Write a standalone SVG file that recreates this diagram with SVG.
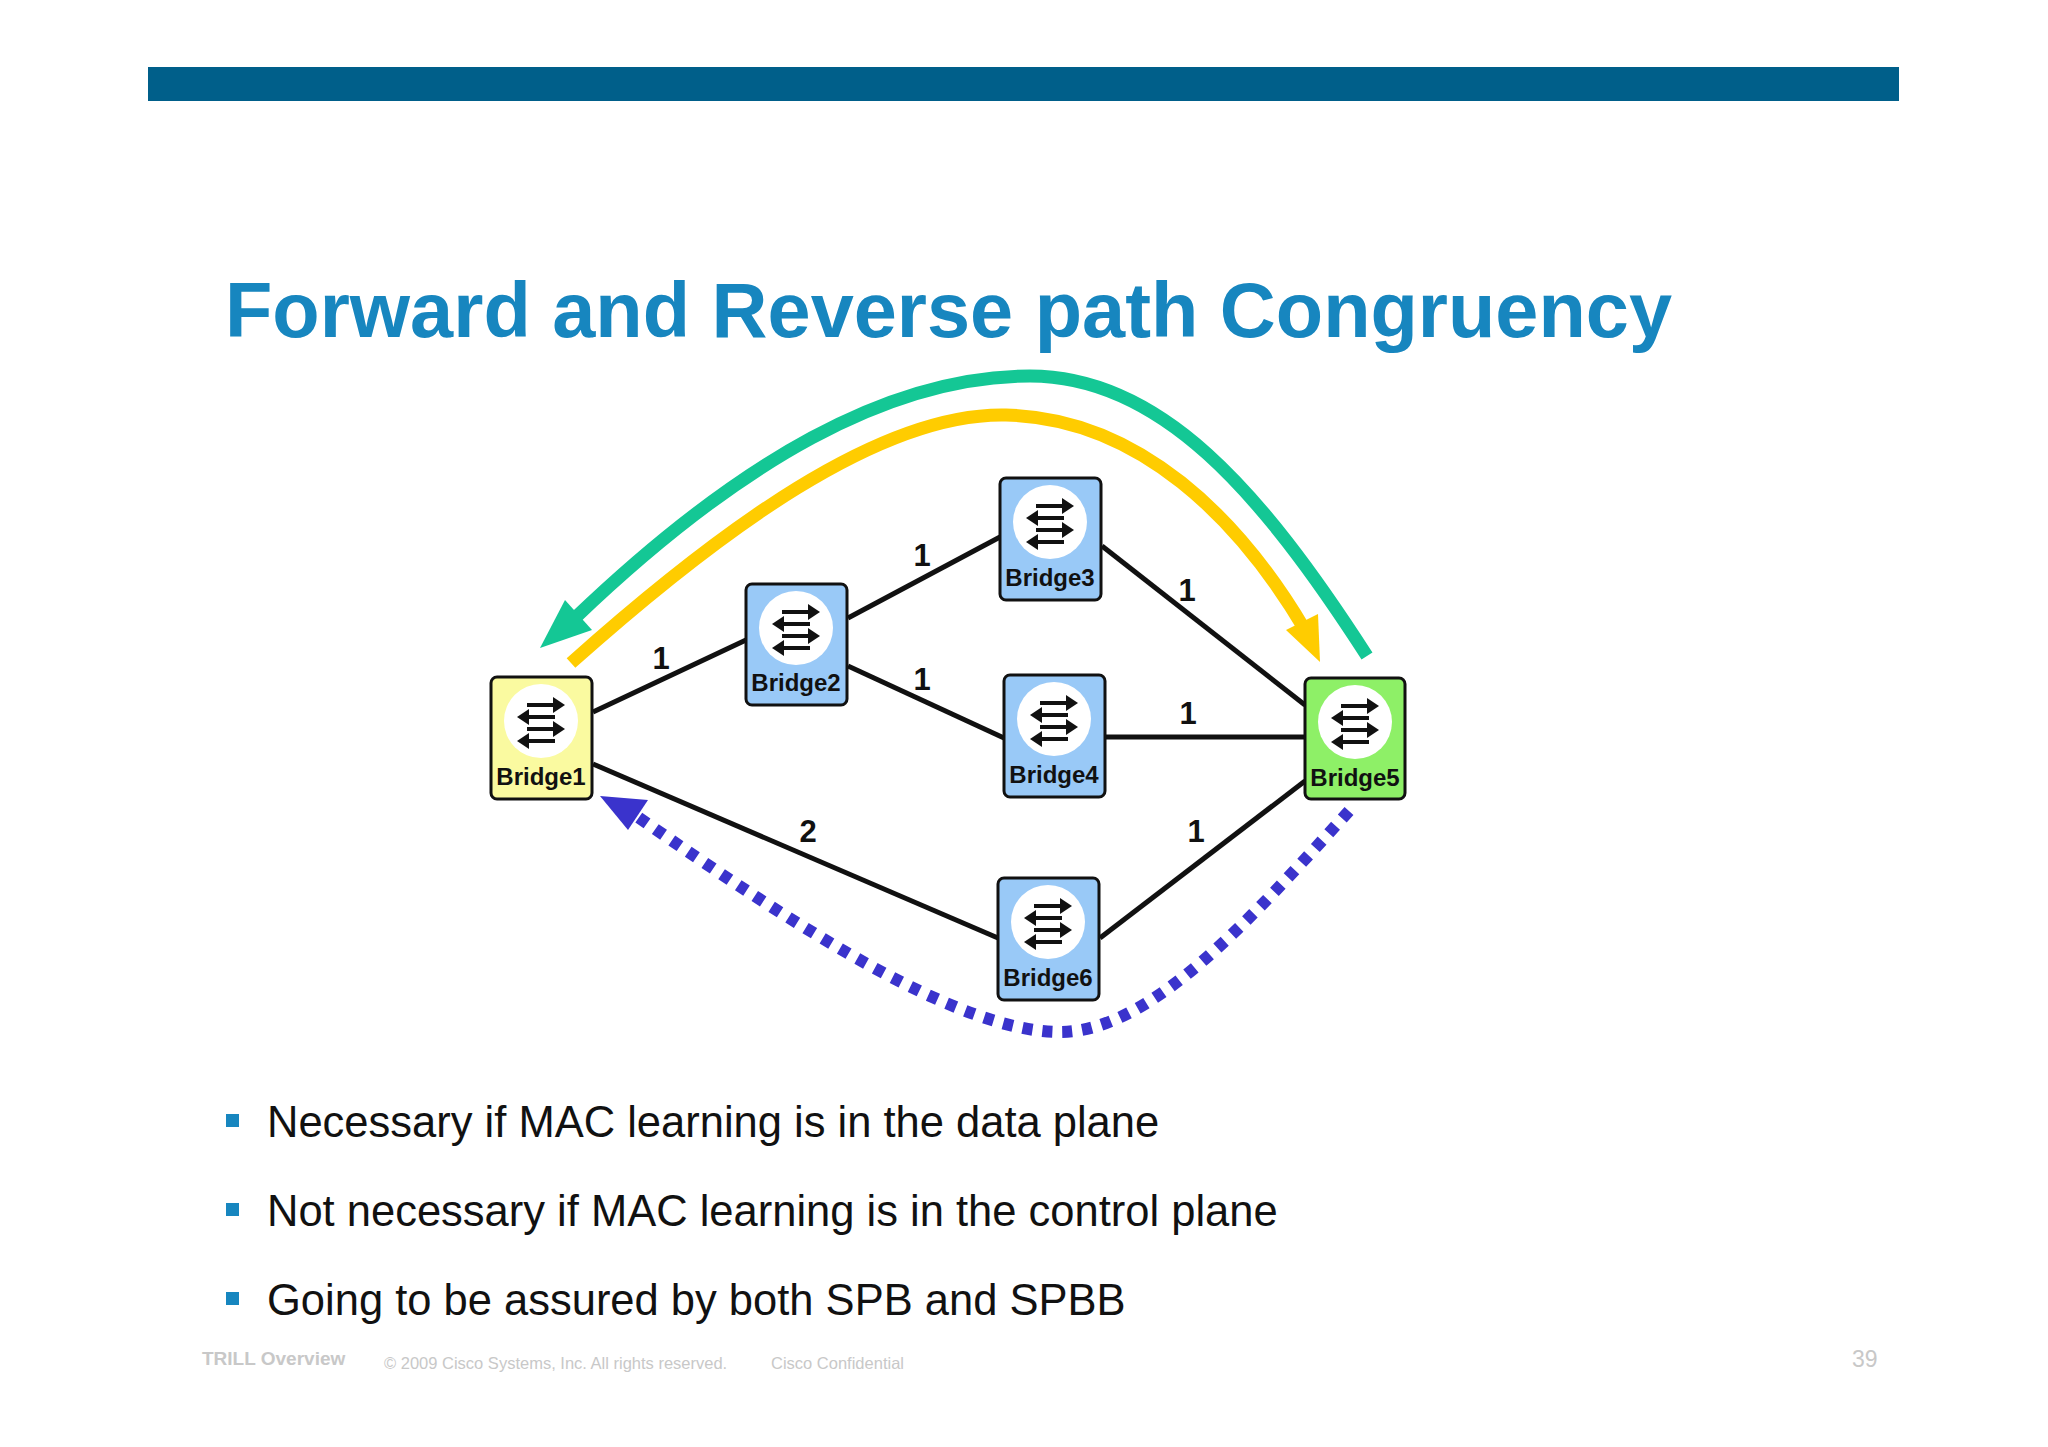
<svg xmlns="http://www.w3.org/2000/svg" xmlns:xlink="http://www.w3.org/1999/xlink" width="2048" height="1447" viewBox="0 0 2048 1447">
<style>
.box{stroke:#111;stroke-width:3}
.lbl{font-family:"Liberation Sans",Arial,sans-serif;font-weight:bold;font-size:24px;fill:#111;text-anchor:middle}
.link{stroke:#111;stroke-width:5;fill:none}
.cost{font-family:"Liberation Sans",Arial,sans-serif;font-weight:bold;font-size:31px;fill:#111;text-anchor:middle}
.bul{font-family:"Liberation Sans",Arial,sans-serif;font-size:43.5px;fill:#111}
.foot{font-family:"Liberation Sans",Arial,sans-serif;fill:#c8c8c8}
</style>
<defs>
<g id="icon">
<circle r="37" fill="#fff"/>
<g stroke="#111" stroke-width="4" fill="#111">
<line x1="-14" y1="-16" x2="16" y2="-16"/><polygon points="24,-16 12,-24 12,-8" stroke="none"/>
<line x1="-16" y1="-4" x2="14" y2="-4"/><polygon points="-24,-4 -12,-12 -12,4" stroke="none"/>
<line x1="-14" y1="8" x2="16" y2="8"/><polygon points="24,8 12,0 12,16" stroke="none"/>
<line x1="-16" y1="20" x2="14" y2="20"/><polygon points="-24,20 -12,12 -12,28" stroke="none"/>
</g>
</g>
</defs>
<rect width="2048" height="1447" fill="#fff"/>
<rect x="148" y="67" width="1751" height="34" fill="#005f8a"/>
<text x="225" y="337" font-family="Liberation Sans,Arial,sans-serif" font-weight="bold" font-size="77.5" fill="#1786bf">Forward and Reverse path Congruency</text>
<g id="connectors">
<line class="link" x1="593" y1="712" x2="746" y2="640"/>
<line class="link" x1="848" y1="618" x2="1000" y2="537"/>
<line class="link" x1="1102" y1="546" x2="1305" y2="705"/>
<line class="link" x1="848" y1="666" x2="1004" y2="738"/>
<line class="link" x1="1106" y1="737" x2="1305" y2="737"/>
<line class="link" x1="593" y1="764" x2="998" y2="938"/>
<line class="link" x1="1100" y1="938" x2="1305" y2="781"/>
<text class="cost" x="661" y="669">1</text>
<text class="cost" x="922" y="566">1</text>
<text class="cost" x="1187" y="601">1</text>
<text class="cost" x="922" y="690">1</text>
<text class="cost" x="1188" y="724">1</text>
<text class="cost" x="808" y="842">2</text>
<text class="cost" x="1196" y="842">1</text>
<path d="M1367,656 C1260,490 1160,376 1030,376 C890,376 740,460 575,618" stroke="#14c795" stroke-width="13" fill="none"/>
<polygon points="540,648 565,600 592,630" fill="#14c795"/>
<path d="M571,663 C720,530 880,412 1006,415 C1140,418 1240,520 1305,630" stroke="#ffcc00" stroke-width="13" fill="none"/>
<polygon points="1320,662 1286,630 1318,614" fill="#ffcc00"/>
<path d="M1349,811 C1250,920 1150,1032 1060,1032 C960,1032 800,930 635,815" stroke="#3a33cc" stroke-width="12" stroke-dasharray="10 10" fill="none"/>
<polygon points="600,796 648,800 628,830" fill="#3a33cc"/>
</g>
<g id="bridge1"><rect class="box" x="491" y="677" width="101" height="122" rx="6" fill="#fafaa0"/><use xlink:href="#icon" x="541" y="721"/><text class="lbl" x="541" y="785">Bridge1</text></g>
<g id="bridge2"><rect class="box" x="746" y="584" width="101" height="121" rx="6" fill="#99c9f7"/><use xlink:href="#icon" x="796" y="628"/><text class="lbl" x="796" y="691">Bridge2</text></g>
<g id="bridge3"><rect class="box" x="1000" y="478" width="101" height="122" rx="6" fill="#99c9f7"/><use xlink:href="#icon" x="1050" y="522"/><text class="lbl" x="1050" y="586">Bridge3</text></g>
<g id="bridge4"><rect class="box" x="1004" y="675" width="101" height="122" rx="6" fill="#99c9f7"/><use xlink:href="#icon" x="1054" y="719"/><text class="lbl" x="1054" y="783">Bridge4</text></g>
<g id="bridge5"><rect class="box" x="1305" y="678" width="100" height="121" rx="6" fill="#8ef067"/><use xlink:href="#icon" x="1355" y="722"/><text class="lbl" x="1355" y="786">Bridge5</text></g>
<g id="bridge6"><rect class="box" x="998" y="878" width="101" height="122" rx="6" fill="#99c9f7"/><use xlink:href="#icon" x="1048" y="922"/><text class="lbl" x="1048" y="986">Bridge6</text></g>
<g fill="#1786bf"><rect x="226" y="1114" width="13" height="13"/><rect x="226" y="1203" width="13" height="13"/><rect x="226" y="1292" width="13" height="13"/></g>
<text class="bul" x="267" y="1137">Necessary if MAC learning is in the data plane</text>
<text class="bul" x="267" y="1226">Not necessary if MAC learning is in the control plane</text>
<text class="bul" x="267" y="1315">Going to be assured by both SPB and SPBB</text>
<text class="foot" x="202" y="1365" font-size="19" font-weight="bold">TRILL Overview</text>
<text class="foot" x="384" y="1369" font-size="16.5">© 2009 Cisco Systems, Inc. All rights reserved.</text>
<text class="foot" x="771" y="1369" font-size="16.5">Cisco Confidential</text>
<text class="foot" x="1852" y="1367" font-size="23">39</text>
</svg>
